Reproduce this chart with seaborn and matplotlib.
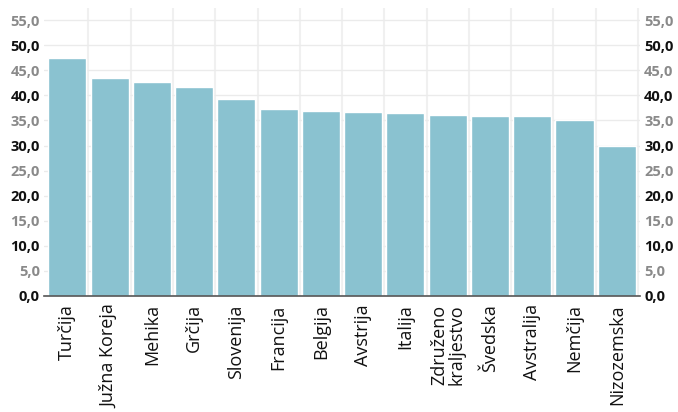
import numpy as np
import pandas as pd
import matplotlib
matplotlib.use("Agg")
import matplotlib.pyplot as plt
import seaborn as sns

# values
countries = ["Turčija", "Južna Koreja", "Mehika", "Grčija", "Slovenija", "Francija",
             "Belgija", "Avstrija", "Italija", "Združeno\nkraljestvo", "Švedska",
             "Avstralija", "Nemčija", "Nizozemska"]
values = [47.4, 43.4, 42.6, 41.6, 39.2, 37.2, 36.9, 36.7, 36.5, 36.1, 35.9, 35.9, 35.1, 29.9]
yticks = [0, 5, 10, 15, 20, 25, 30, 35, 40, 45, 50, 55]
ytick_labels = ["0,0", "5,0", "10,0", "15,0", "20,0", "25,0", "30,0", "35,0",
                "40,0", "45,0", "50,0", "55,0"]

df = pd.DataFrame({"country": countries, "value": values})

sns.set_style("white")
plt.rcParams["font.family"] = ["Open Sans", "DejaVu Sans"]

fig = plt.figure(figsize=(6.78, 4.12), dpi=100)
ax = fig.add_axes([0.065, 0.2816, 0.879, 0.70])

sns.barplot(data=df, x="country", y="value", color="#8AC2D0", saturation=1,
            width=0.9, ax=ax, zorder=3)

ax.set_xlim(-0.55, len(countries) - 0.45)
ax.set_ylim(0, 57.5)
ax.set_xlabel("")
ax.set_ylabel("")

# grid: horizontal every 5, vertical between bars
ax.set_yticks(yticks)
ax.set_xticks(np.arange(len(countries)) + 0.5, minor=True)
ax.grid(axis="y", color="#ebebeb", linewidth=1, zorder=0)
ax.grid(axis="x", which="minor", color="#f0f0f0", linewidth=1.5, zorder=0)
ax.tick_params(axis="x", which="both", length=0)
ax.tick_params(axis="x", which="major", pad=6)

for s in ["top", "left", "right"]:
    ax.spines[s].set_visible(False)
ax.spines["bottom"].set_color("#555555")
ax.spines["bottom"].set_linewidth(1.2)
ax.spines["bottom"].set_zorder(4)

ax.set_xticks(np.arange(len(countries)))
ax.set_xticklabels(countries, rotation=90, fontsize=13, color="#111111",
                   va="top", ha="center", linespacing=0.9)

ax2 = ax.twinx()
ax2.set_ylim(ax.get_ylim())
for s in ["top", "left", "right", "bottom"]:
    ax2.spines[s].set_visible(False)

for a, side in [(ax, "left"), (ax2, "right")]:
    a.set_yticks(yticks)
    a.set_yticklabels(ytick_labels, fontsize=10.5, fontweight="bold")
    a.tick_params(axis="y", length=0, pad=3)
    for t, v in zip(a.get_yticklabels(), yticks):
        t.set_color("#111111" if v % 10 == 0 else "#8a8a8a")

fig.savefig("out.png", dpi=100)
